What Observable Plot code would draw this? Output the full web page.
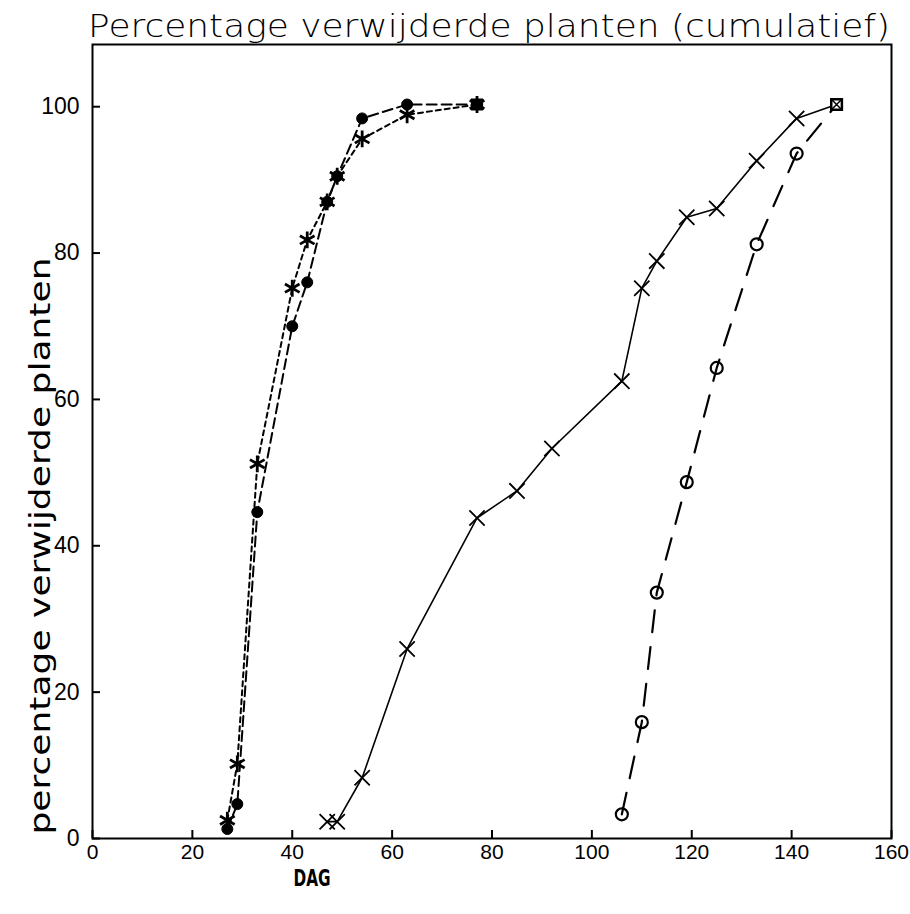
<!DOCTYPE html>
<html>
<head>
<meta charset="utf-8">
<script src="https://cdn.jsdelivr.net/npm/d3@7"></script>
<script src="https://cdn.jsdelivr.net/npm/@observablehq/plot@0.6"></script>
<style>
  html, body { margin: 0; padding: 0; background: #fff; }
  #chart svg { display: block; }
</style>
</head>
<body>
<div id="chart"></div>
<script>
// ---- data ----
const daysStar   = [27, 29, 33, 40, 43, 47, 49, 54, 63, 77];
const pctStar    = [2.5, 10.2, 51.2, 75.2, 81.8, 87.0, 90.5, 95.6, 98.9, 100.3];

const daysFilled = [27, 29, 33, 40, 43, 47, 49, 54, 63, 77];
const pctFilled  = [1.3, 4.7, 44.6, 70.0, 76.0, 87.0, 90.5, 98.4, 100.3, 100.3];

const daysCross  = [47, 49, 54, 63, 77, 85, 92, 106, 110, 113, 119, 125, 133, 141, 149];
const pctCross   = [2.3, 2.3, 8.3, 25.9, 43.8, 47.5, 53.3, 62.5, 75.2, 78.9, 84.9, 86.1, 92.6, 98.4, 100.3];

const daysCircle = [106, 110, 113, 119, 125, 133, 141, 149];
const pctCircle  = [3.3, 15.9, 33.6, 48.7, 64.3, 81.2, 93.6, 100.3];

const xTicks = [0, 20, 40, 60, 80, 100, 120, 140, 160];
const yTicks = [0, 20, 40, 60, 80, 100];

const titleText = "Percentage verwijderde planten (cumulatief)";
const yLabelText = "percentage verwijderde planten";
const xLabelText = "DAG";

// ---- build rows ----
const rows = (days, pct) => days.map((d, i) => ({day: d, pct: pct[i]}));
const star = rows(daysStar, pctStar);
const filled = rows(daysFilled, pctFilled);
const cross = rows(daysCross, pctCross);
const circle = rows(daysCircle, pctCircle);
const body = a => a.slice(0, -1);
const last = a => a.slice(-1);

const tickFont = "'Liberation Sans', Arial, sans-serif";

const plot = Plot.plot({
  width: 910,
  height: 914,
  marginLeft: 92,
  marginRight: 19,
  marginTop: 44,
  marginBottom: 76,
  style: {background: "#fff", color: "#000"},
  x: {domain: [0, 160]},
  y: {domain: [0, 108.5]},
  marks: [
    Plot.frame({stroke: "#000", strokeWidth: 2}),
    Plot.axisX({ticks: xTicks, tickSize: -8, tickPadding: 14, label: null, strokeWidth: 2,
                tickFormat: d => String(d)}),
    Plot.axisY({ticks: yTicks, tickSize: -8, tickPadding: 21, label: null, strokeWidth: 2,
                tickFormat: d => String(d)}),

    // lines
    Plot.line(star,   {x: "day", y: "pct", stroke: "#000", strokeWidth: 2, strokeDasharray: "5,4"}),
    Plot.line(filled, {x: "day", y: "pct", stroke: "#000", strokeWidth: 2, strokeDasharray: "10,5"}),
    Plot.line(cross,  {x: "day", y: "pct", stroke: "#000", strokeWidth: 1.6}),
    Plot.line(circle, {x: "day", y: "pct", stroke: "#000", strokeWidth: 2.2, strokeDasharray: "22,15"}),

    // markers
    Plot.dot(body(filled), {x: "day", y: "pct", r: 5.5, fill: "#000", stroke: "#000", strokeWidth: 1}),
    Plot.dot(last(filled), {x: "day", y: "pct", symbol: "square", r: 6, fill: "#000", stroke: "#000"}),
    Plot.dot(star,   {x: "day", y: "pct", symbol: "asterisk", r: 8, stroke: "#000", strokeWidth: 2.8}),
    Plot.dot(body(cross), {x: "day", y: "pct", symbol: "times", r: 7, stroke: "#000", strokeWidth: 1.8}),
    Plot.dot(body(circle), {x: "day", y: "pct", symbol: "circle", r: 6, fill: "#fff", fillOpacity: 0, stroke: "#000", strokeWidth: 2.2}),
    Plot.dot(last(cross), {x: "day", y: "pct", symbol: "square", r: 6, fill: "#fff", stroke: "#000", strokeWidth: 2.5}),
    Plot.dot(last(cross), {x: "day", y: "pct", symbol: "times", r: 5, stroke: "#000", strokeWidth: 1.5})
  ]
});

const svg = d3.select(plot);

// size the axis tick labels (the only texts Plot drew)
svg.selectAll("text")
  .style("font-size", "21px")
  .style("font-family", tickFont);
svg.selectAll('g[aria-label="y-axis tick label"] text, g[aria-label="y-axis tick label"]')
  .style("font-size", "23px");

svg.append("text")
  .attr("x", 88).attr("y", 37)
  .attr("text-anchor", "start")
  .attr("font-family", "'DejaVu Sans ExtraLight', 'DejaVu Sans', sans-serif")
  .attr("font-weight", 200)
  .attr("font-size", 32)
  .attr("textLength", 802)
  .attr("lengthAdjust", "spacingAndGlyphs")
  .attr("fill", "#000")
  .text(titleText);

svg.append("text")
  .attr("transform", "translate(50,546) rotate(-90)")
  .attr("text-anchor", "middle")
  .attr("font-family", "'DejaVu Sans', sans-serif")
  .attr("font-size", 28)
  .attr("textLength", 577)
  .attr("lengthAdjust", "spacingAndGlyphs")
  .attr("fill", "#000")
  .text(yLabelText);

svg.append("text")
  .attr("transform", "translate(312,886) scale(0.85,1.15)")
  .attr("text-anchor", "middle")
  .attr("font-family", "'Liberation Sans Narrow', 'DejaVu Sans Condensed', sans-serif")
  .attr("font-weight", "bold")
  .attr("font-size", 20)
  .attr("fill", "#000")
  .text(xLabelText);

document.getElementById("chart").appendChild(plot);
</script>
</body>
</html>
